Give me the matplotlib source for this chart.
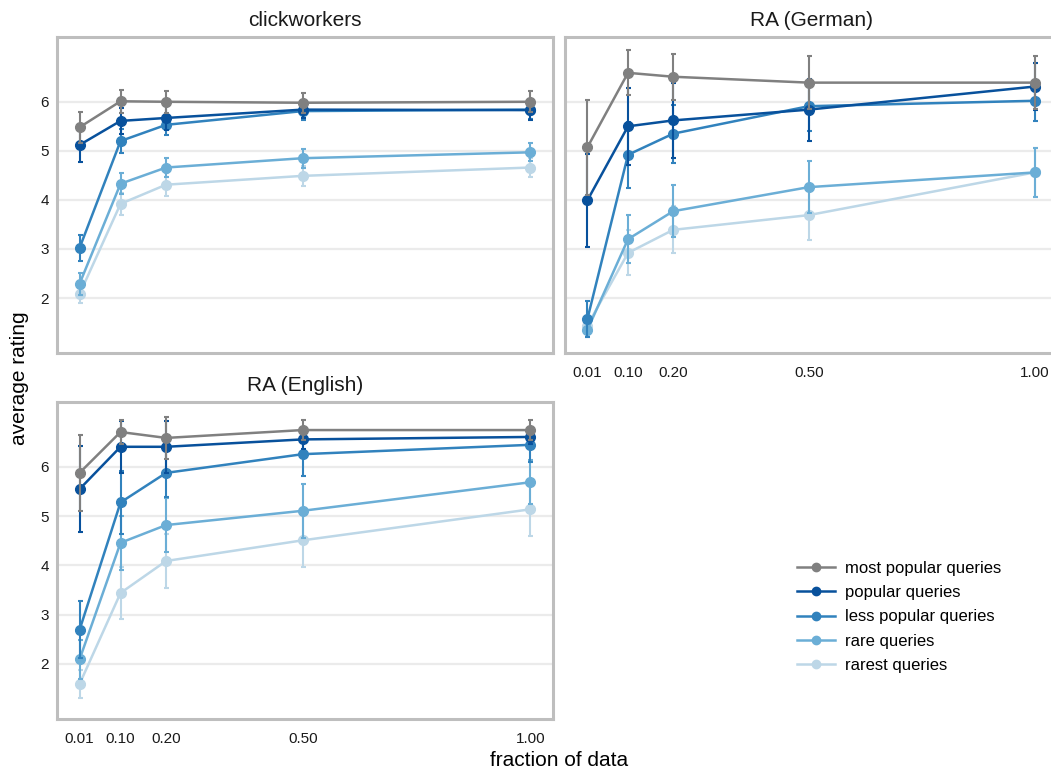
import numpy as np
import matplotlib.pyplot as plt
from matplotlib.lines import Line2D

plt.rcParams["font.family"] = ["Liberation Sans", "DejaVu Sans"]

fractions = [0.01, 0.10, 0.20, 0.50, 1.00]
groups = ["most popular queries", "popular queries", "less popular queries",
          "rare queries", "rarest queries"]
colors = ["#808080", "#08519C", "#3182BD", "#6BAED6", "#BDD7E7"]

# mean rating per group, one row per group (fractions in order)
click_mean = [
    [5.48, 6.01, 6.00, 5.98, 6.00],
    [5.12, 5.61, 5.67, 5.84, 5.83],
    [3.02, 5.20, 5.53, 5.81, 5.84],
    [2.29, 4.33, 4.66, 4.85, 4.97],
    [2.08, 3.92, 4.31, 4.49, 4.66],
]
click_err = [
    [0.32, 0.23, 0.22, 0.20, 0.21],
    [0.34, 0.27, 0.25, 0.18, 0.20],
    [0.27, 0.24, 0.20, 0.18, 0.20],
    [0.22, 0.21, 0.20, 0.19, 0.18],
    [0.18, 0.23, 0.24, 0.21, 0.20],
]
german_mean = [
    [5.07, 6.59, 6.51, 6.39, 6.39],
    [3.99, 5.50, 5.62, 5.84, 6.31],
    [1.57, 4.92, 5.35, 5.91, 6.02],
    [1.35, 3.20, 3.77, 4.26, 4.56],
    [1.44, 2.92, 3.39, 3.69, 4.56],
]
german_err = [
    [0.96, 0.46, 0.47, 0.54, 0.54],
    [0.94, 0.78, 0.77, 0.63, 0.47],
    [0.36, 0.67, 0.59, 0.50, 0.41],
    [0.15, 0.49, 0.53, 0.53, 0.50],
    [0.20, 0.46, 0.48, 0.50, 0.50],
]
english_mean = [
    [5.88, 6.71, 6.59, 6.75, 6.75],
    [5.55, 6.41, 6.41, 6.56, 6.61],
    [2.69, 5.28, 5.88, 6.26, 6.45],
    [2.09, 4.46, 4.82, 5.11, 5.69],
    [1.59, 3.44, 4.09, 4.51, 5.14],
]
english_err = [
    [0.77, 0.24, 0.43, 0.21, 0.21],
    [0.87, 0.53, 0.53, 0.20, 0.15],
    [0.58, 0.64, 0.50, 0.45, 0.35],
    [0.39, 0.55, 0.55, 0.55, 0.45],
    [0.29, 0.52, 0.55, 0.55, 0.55],
]

W, H = 1051, 773
fig = plt.figure(figsize=(W / 100, H / 100), dpi=100)

def box(l, t, w, h):
    return [l / W, 1 - (t + h) / H, w / W, h / H]

ax1 = fig.add_axes(box(57, 37, 496, 316))
ax2 = fig.add_axes(box(565, 37, 492, 316))
ax3 = fig.add_axes(box(57, 402, 496, 317))

panels = [
    (ax1, "clickworkers", click_mean, click_err, False, True),
    (ax2, "RA (German)", german_mean, german_err, True, False),
    (ax3, "RA (English)", english_mean, english_err, True, True),
]

for ax, title, means, errs, show_x, show_y in panels:
    for i in reversed(range(len(groups))):
        ax.errorbar(fractions, means[i], yerr=errs[i], color=colors[i],
                    lw=1.8, marker="o", ms=7, elinewidth=1.5, capsize=1.8,
                    capthick=1.5, zorder=3 + (5 - i))
    ax.set_xlim(-0.0395, 1.0495)
    ax.set_ylim(0.88, 7.32)
    ax.set_yticks([2, 3, 4, 5, 6])
    ax.set_xticks(fractions)
    ax.set_xticklabels(["%.2f" % f for f in fractions])
    ax.grid(axis="y", color="#EBEBEB", lw=1.6, zorder=0)
    ax.set_axisbelow(True)
    for s in ax.spines.values():
        s.set_color("#BEBEBE")
        s.set_linewidth(2.2)
    ax.tick_params(length=0, labelsize=11, colors="#1A1A1A", pad=6)
    ax.tick_params(axis="x", pad=9.5)
    if not show_x:
        ax.tick_params(axis="x", labelbottom=False)
    if not show_y:
        ax.tick_params(axis="y", labelleft=False)
    ax.set_title(title, fontsize=15, color="#1A1A1A", pad=8)

fig.text(20 / W, 1 - 378 / H, "average rating", rotation=90, fontsize=15,
         ha="center", va="center", color="black")
fig.text(559 / W, 1 - 761 / H, "fraction of data", fontsize=15,
         ha="center", va="center", color="black")

handles = [Line2D([0], [0], color=c, lw=1.8, marker="o", ms=6) for c in colors]
fig.legend(handles, groups, loc="center left",
           bbox_to_anchor=(782 / W, 1 - 617 / H), frameon=False, fontsize=12,
           handlelength=2.3, labelspacing=0.55, handletextpad=0.6)

fig.savefig("out.png", dpi=100)
